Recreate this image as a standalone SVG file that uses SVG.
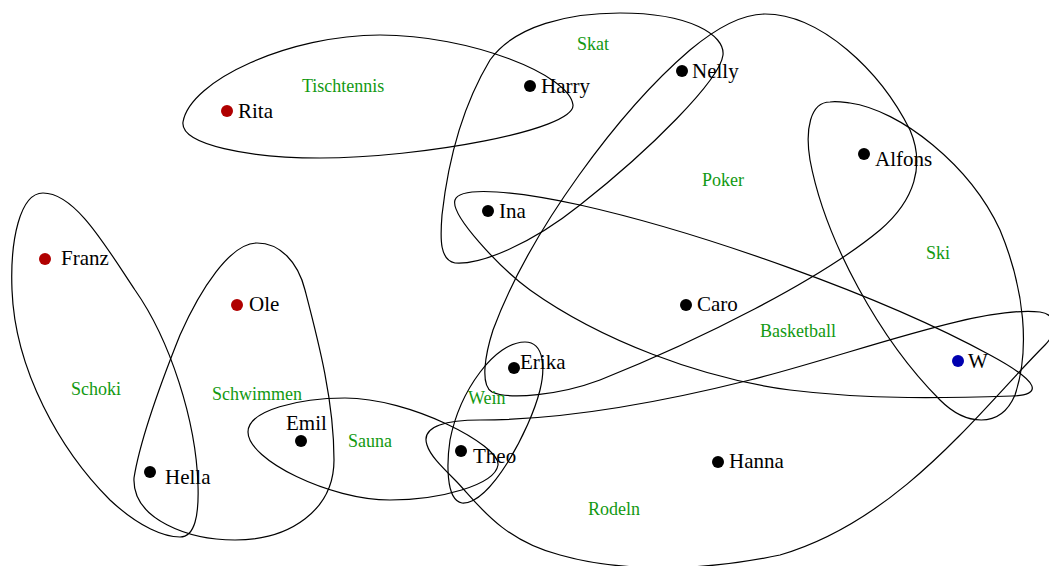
<svg xmlns="http://www.w3.org/2000/svg" width="1049" height="566" viewBox="0 0 1049 566">
<style>
.e{fill:none;stroke:#000;stroke-width:1.2}
.n{font-family:"Liberation Serif",serif;font-size:21px;fill:#000}
.g{font-family:"Liberation Serif",serif;font-size:18px;fill:#129912}
.d{fill:#000}
.r{fill:#b00000}
.b{fill:#0000b0}
</style>
<rect width="1049" height="566" fill="#fff"/>
<g id="edges">
<path id="Schoki" class="e" d="M43,193 C20,193 10,240 12,290 C15,370 60,450 110,500 C140,528 165,537 180,537 C195,537 199,515 198,485 C196,420 170,340 135,290 C105,245 75,193 43,193 Z"/>
<path id="Schwimmen" class="e" d="M257,243 C230,243 200,290 180,335 C160,385 140,440 134,478 C132,520 190,540 235,540 C290,540 334,510 334,460 C334,400 318,340 305,290 C298,262 280,243 257,243 Z"/>
<path id="Sauna" class="e" d="M248,432 C248,410 300,398 345,398 C410,398 500,445 498,465 C495,485 440,500 390,500 C330,500 248,460 248,432 Z"/>
<path id="Wein" class="e" d="M525,342 C545,342 545,370 540,390 C530,430 490,505 462,503 C445,500 447,460 450,440 C460,390 495,342 525,342 Z"/>
<path id="Rodeln" class="e" d="M427,445 C420,425 450,420 480,420 C560,420 650,405 750,380 C850,355 980,305 1040,312 C1060,315 1055,335 1045,345 C980,410 900,520 780,555 C700,572 620,572 560,555 C500,540 475,500 455,480 C440,465 430,455 427,445 Z"/>
<path id="Basketball" class="e" d="M455,200 C460,185 520,192 580,205 C700,232 880,295 990,355 C1042,383 1042,395 1012,396 C950,398 870,400 790,390 C700,378 600,340 530,290 C500,268 450,215 455,200 Z"/>
<path id="Tischtennis" class="e" d="M183,122 C190,80 290,35 380,35 C470,35 570,75 573,105 C575,130 420,158 320,158 C250,158 180,145 183,122 Z"/>
<path id="Skat" class="e" d="M620,13 C690,13 725,35 723,55 C720,80 650,150 580,205 C530,245 480,265 455,263 C440,260 440,240 442,215 C447,170 460,110 490,60 C515,25 570,13 620,13 Z"/>
<path id="Poker" class="e" d="M765,14 C820,14 880,70 910,130 C925,165 915,200 880,230 C820,280 700,340 600,380 C560,395 510,400 492,392 C480,385 485,355 493,330 C530,230 620,110 690,50 C720,25 745,14 765,14 Z"/>
<path id="Ski" class="e" d="M830,102 C810,102 805,130 810,160 C825,240 880,340 940,400 C965,425 1000,430 1015,395 C1030,350 1025,290 1000,230 C970,165 900,110 850,103 C842,102 836,101 830,102 Z"/>
</g>
<g id="edge-labels">
<text class="g" x="302" y="92">Tischtennis</text>
<text class="g" x="577" y="50">Skat</text>
<text class="g" x="702" y="186">Poker</text>
<text class="g" x="926" y="259">Ski</text>
<text class="g" x="760" y="337">Basketball</text>
<text class="g" x="71" y="395">Schoki</text>
<text class="g" x="212" y="400">Schwimmen</text>
<text class="g" x="348" y="447">Sauna</text>
<text class="g" x="468" y="404">Wein</text>
<text class="g" x="588" y="515">Rodeln</text>
</g>
<g id="Rita"><circle class="r" cx="227" cy="111" r="6"/><text class="n" x="238" y="118">Rita</text></g>
<g id="Harry"><circle class="d" cx="530" cy="86" r="6"/><text class="n" x="541" y="93">Harry</text></g>
<g id="Nelly"><circle class="d" cx="682" cy="71" r="6"/><text class="n" x="692" y="78">Nelly</text></g>
<g id="Alfons"><circle class="d" cx="864" cy="154" r="6"/><text class="n" x="875" y="166">Alfons</text></g>
<g id="Ina"><circle class="d" cx="488" cy="211" r="6"/><text class="n" x="499" y="218">Ina</text></g>
<g id="Franz"><circle class="r" cx="45" cy="259" r="6"/><text class="n" x="61" y="265">Franz</text></g>
<g id="Ole"><circle class="r" cx="237" cy="305" r="6"/><text class="n" x="249" y="311">Ole</text></g>
<g id="Caro"><circle class="d" cx="686" cy="305" r="6"/><text class="n" x="697" y="311">Caro</text></g>
<g id="Erika"><circle class="d" cx="514" cy="368" r="6"/><text class="n" x="520" y="369">Erika</text></g>
<g id="W"><circle class="b" cx="958" cy="361" r="6"/><text class="n" x="968" y="368">W</text></g>
<g id="Emil"><circle class="d" cx="301" cy="441" r="6"/><text class="n" x="286" y="430">Emil</text></g>
<g id="Hella"><circle class="d" cx="150" cy="472" r="6"/><text class="n" x="165" y="484">Hella</text></g>
<g id="Theo"><circle class="d" cx="461" cy="451" r="6"/><text class="n" x="473" y="463">Theo</text></g>
<g id="Hanna"><circle class="d" cx="718" cy="462" r="6"/><text class="n" x="729" y="468">Hanna</text></g>
</svg>
